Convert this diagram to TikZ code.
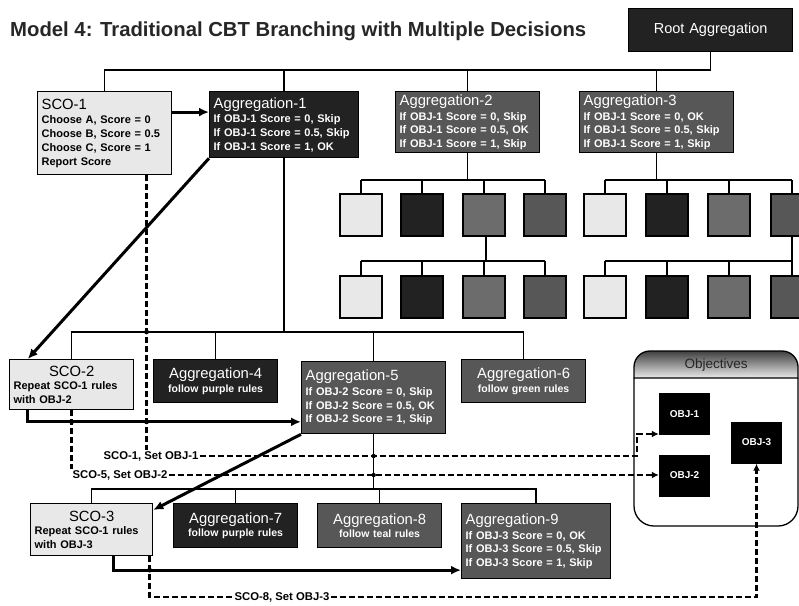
\documentclass[tikz,border=0pt]{standalone}
\usepackage{fontspec}
\setmainfont{Liberation Sans}
\usetikzlibrary{calc, arrows.meta}
\definecolor{scogray}{HTML}{E8E8E8}
\definecolor{aggblack}{HTML}{222222}
\definecolor{agggray}{HTML}{575757}
\definecolor{sqmid}{HTML}{6C6C6C}
\definecolor{titlegray}{HTML}{262626}
\newcommand{\headfont}{\mdseries\fontsize{14.8}{17}\selectfont}
\newcommand{\rulefont}{\bfseries\fontsize{11}{13.7}\selectfont}
\newcommand{\followfont}{\bfseries\fontsize{10.5}{13}\selectfont}
\setlength{\parindent}{0pt}

\begin{document}
\begin{tikzpicture}[x=1pt, y=-1pt,
    box/.style={draw=black, line width=1.3pt, inner xsep=4pt, inner ysep=2pt, font=\rulefont, align=left, anchor=north west},
    scobox/.style={box, fill=scogray, text=black},
    aggbox/.style={box, fill=agggray, text=white},
    darkbox/.style={box, fill=aggblack, text=white},
    sq/.style={draw=black, line width=1.3pt, minimum size=42pt, inner sep=0pt},
    objbox/.style={fill=black, text=white, minimum width=51pt, minimum height=42pt, inner sep=0pt, font=\bfseries\fontsize{10}{12}\selectfont},
    tree/.style={line width=1.4pt},
    thickarr/.style={line width=3pt, -{Latex[length=10pt, width=9pt]}},
    dashline/.style={line width=2.6pt, dash pattern=on 6pt off 3pt},
    dasharr/.style={dashline, -{Latex[length=7pt, width=7pt]}},
    lbl/.style={font=\bfseries\fontsize{11.3}{13}\selectfont, inner sep=1pt}]

    \useasboundingbox (0,0) rectangle (799,605);
    \clip (0,0) rectangle (799,605);

    \node[anchor=base west, inner sep=0pt, text=titlegray, font=\bfseries\fontsize{20.3}{23}\selectfont] (title) at (10,36) {Model 4: Traditional CBT Branching with Multiple Decisions};

    \coordinate (bus1) at (0,70);
    \coordinate (bus2) at (0,332);
    \coordinate (bus3) at (0,489);
    \coordinate (busa) at (0,180);
    \coordinate (busb) at (0,261);

    % top row
    \node[darkbox, text width=156pt, minimum height=43pt, align=center, font=\fontsize{14.5}{17}\selectfont] (root) at (628,8) {Root Aggregation};
    \node[scobox, text width=126pt, minimum height=83pt] (sco1) at (37,91) {{\headfont SCO-1}\\[1pt] Choose A, Score = 0\\ Choose B, Score = 0.5\\ Choose C, Score = 1\\ Report Score};
    \node[darkbox, text width=141pt, minimum height=66pt] (agg1) at (209,91) {{\headfont Aggregation-1}\\[1pt] If OBJ-1 Score = 0, Skip\\ If OBJ-1 Score = 0.5, Skip\\ If OBJ-1 Score = 1, OK};
    \node[aggbox, text width=136pt, minimum height=61pt] (agg2) at (395,91) {{\headfont Aggregation-2}\\[1pt] If OBJ-1 Score = 0, Skip\\ If OBJ-1 Score = 0.5, OK\\ If OBJ-1 Score = 1, Skip};
    \node[aggbox, text width=146pt, minimum height=61pt] (agg3) at (579,91) {{\headfont Aggregation-3}\\[1pt] If OBJ-1 Score = 0, OK\\ If OBJ-1 Score = 0.5, Skip\\ If OBJ-1 Score = 1, Skip};

    \foreach \i/\x/\c in {1/361/scogray, 2/422/aggblack, 3/484/sqmid, 4/545/agggray} {
        \node[sq, fill=\c] (sqa\i) at (\x,215) {};
        \node[sq, fill=\c] (sqb\i) at (\x,297) {};
    }
    \foreach \i/\x/\c in {1/605/scogray, 2/667/aggblack, 3/729/sqmid, 4/792/agggray} {
        \node[sq, fill=\c] (sqc\i) at (\x,215) {};
        \node[sq, fill=\c] (sqd\i) at (\x,297) {};
    }

    % second row
    \node[scobox, text width=116pt, minimum height=50pt] (sco2) at (9,359) {\hfill{\headfont SCO-2}\hfill\null\\ Repeat SCO-1 rules\\ with OBJ-2};
    \node[darkbox, text width=116pt, minimum height=43pt, align=center] (agg4) at (153,359) {{\headfont Aggregation-4}\\ \followfont follow purple rules};
    \node[aggbox, text width=136pt, minimum height=72pt] (agg5) at (301,361) {{\headfont Aggregation-5}\\[1pt] If OBJ-2 Score = 0, Skip\\ If OBJ-2 Score = 0.5, OK\\ If OBJ-2 Score = 1, Skip};
    \node[aggbox, text width=116pt, minimum height=43pt, align=center] (agg6) at (461,359) {{\headfont Aggregation-6}\\ \followfont follow green rules};

    % third row
    \node[scobox, text width=114pt, minimum height=52pt] (sco3) at (30,503) {\hfill{\headfont SCO-3}\hfill\null\\ Repeat SCO-1 rules\\ with OBJ-3};
    \node[darkbox, text width=116pt, minimum height=44pt, align=center] (agg7) at (173,503) {{\headfont Aggregation-7}\\ \followfont follow purple rules};
    \node[aggbox, text width=116pt, minimum height=44pt, align=center] (agg8) at (317,503) {{\headfont Aggregation-8}\\ \followfont follow teal rules};
    \node[aggbox, text width=141pt, minimum height=75pt] (agg9) at (461,503) {{\headfont Aggregation-9}\\[1pt] If OBJ-3 Score = 0, OK\\ If OBJ-3 Score = 0.5, Skip\\ If OBJ-3 Score = 1, Skip};

    % objectives
    \shade[top color=black!75, bottom color=black!8, draw=black, line width=1.3pt] (634,378) [rounded corners=16pt] -- (634,351) -- (798,351) [sharp corners] -- (798,378) -- cycle;
    \draw[line width=1.3pt, rounded corners=20pt] (634,378) -- (634,526) -- (798,526) -- (798,378);
    \node[text=titlegray, font=\fontsize{13.5}{15}\selectfont] (objhead) at (716,365) {Objectives};
    \node[objbox] (obj1) at (684.5,414) {OBJ-1};
    \node[objbox] (obj2) at (684.5,475.5) {OBJ-2};
    \node[objbox] (obj3) at (756.5,442.5) {OBJ-3};

    % tree lines
    \draw[tree] (root.south) |- (sco1.north |- bus1) -- (sco1.north);
    \foreach \n in {agg1, agg2, agg3} \draw[tree] (\n.north) -- (\n.north |- bus1);
    \draw[tree] (agg1.south) |- (sco2.north |- bus2) -- (sco2.north);
    \draw[tree] (agg1.south |- bus2) -- (agg6.north |- bus2) -- (agg6.north);
    \foreach \n in {agg4, agg5} \draw[tree] (\n.north) -- (\n.north |- bus2);
    \draw[tree] (agg5.south) |- (sco3.north |- bus3) -- (sco3.north);
    \draw[tree] (agg5.south |- bus3) -- (agg9.north |- bus3) -- (agg9.north);
    \foreach \n in {agg7, agg8} \draw[tree] (\n.north) -- (\n.north |- bus3);

    \draw[tree] (agg2.south) -- (agg2.south |- busa);
    \draw[tree] (sqa1.north |- busa) -- (sqa4.north |- busa);
    \draw[tree] (sqb1.north |- busb) -- (sqb4.north |- busb);
    \draw[tree] (agg3.south) -- (agg3.south |- busa);
    \draw[tree] (sqc1.north |- busa) -- (sqc4.north |- busa);
    \draw[tree] (sqd1.north |- busb) -- (sqd4.north |- busb);
    \foreach \i in {1,...,4} {
        \draw[tree] (sqa\i.north) -- (sqa\i.north |- busa);
        \draw[tree] (sqb\i.north) -- (sqb\i.north |- busb);
        \draw[tree] (sqc\i.north) -- (sqc\i.north |- busa);
        \draw[tree] (sqd\i.north) -- (sqd\i.north |- busb);
    }
    \draw[tree] ([xshift=2pt]sqa3.south) -- ([xshift=2pt]sqa3.south |- busb);
    \draw[tree] (sqc4.south) -- (sqd4.north);

    % flow arrows
    \coordinate (s1out) at ($(sco1.north east)!0.25!(sco1.south east)$);
    \draw[thickarr] (s1out) -- (s1out -| agg1.west);
    \draw[thickarr] (agg1.south west) -- ($(sco2.north west)!0.15!(sco2.north east)$);
    \coordinate (a5in) at ($(agg5.north west)!0.83!(agg5.south west)$);
    \draw[thickarr] ($(sco2.south west)!0.15!(sco2.south east)$) |- (a5in);
    \draw[thickarr] (agg5.south west) -- ($(sco3.north east)!0.13!(sco3.south east)$);
    \coordinate (a9in) at ($(agg9.north west)!0.88!(agg9.south west)$);
    \draw[thickarr] ($(sco3.south west)!0.68!(sco3.south east)$) |- (a9in);

    % objective links
    \node[lbl] (lab1) at (151,456) {SCO-1, Set OBJ-1};
    \node[lbl] (lab2) at (120,475) {SCO-5, Set OBJ-2};
    \node[lbl] (lab3) at (282,597) {SCO-8, Set OBJ-3};
    \coordinate (s1d) at ($(sco1.south west)!0.81!(sco1.south east)$);
    \coordinate (s3d) at ($(sco3.south west)!0.97!(sco3.south east)$);
    \coordinate (jog1) at (637,434);
    \draw[dashline] (s1d) -- (s1d |- lab1.north);
    \draw[dasharr] (lab1.east) -| (jog1) -- (jog1 -| obj1.west);
    \draw[dashline] (sco2.south) -- (sco2.south |- lab2.north);
    \draw[dasharr] (lab2.east) -- (lab2.east -| obj2.west);
    \draw[dashline] (s3d) |- (lab3.west);
    \draw[dasharr] (lab3.east) -| (obj3.south);

    \fill (s1d |- bus2) circle (2.4pt);
    \fill (s1d |- a5in) circle (2.4pt);
    \fill (sco2.south |- a5in) circle (2.4pt);
    \fill (agg5.south |- lab1) circle (2.2pt);
    \fill (agg5.south |- lab2) circle (2.2pt);
    \fill (s3d |- a9in) circle (2.4pt);
\end{tikzpicture}
\end{document}
